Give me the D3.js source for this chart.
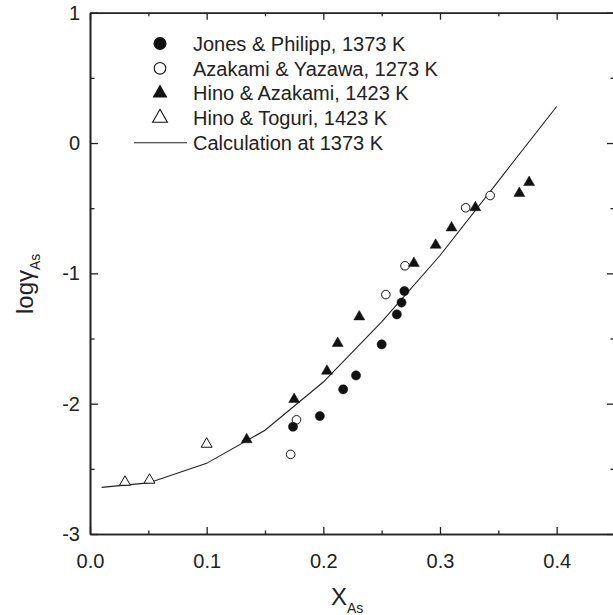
<!DOCTYPE html>
<html>
<head>
<meta charset="utf-8">
<script src="https://cdn.jsdelivr.net/npm/d3@7"></script>
<style>
  body { margin: 0; background: #fff; }
  svg text { font-family: "Liberation Sans", Arial, Helvetica, sans-serif; fill: #222; }
</style>
</head>
<body>
<script>
var width = 613,
    height = 615;

// data
var jonesX = [0.174, 0.197, 0.217, 0.228, 0.250, 0.263, 0.267, 0.2695];
var jonesY = [-2.177, -2.095, -1.890, -1.783, -1.545, -1.315, -1.224, -1.136];

var azakamiX = [0.172, 0.177, 0.2536, 0.270, 0.322, 0.343];
var azakamiY = [-2.389, -2.124, -1.163, -0.942, -0.497, -0.403];

var hinoAzX = [0.1343, 0.175, 0.2031, 0.2123, 0.2308, 0.2776, 0.2963, 0.3099, 0.3303, 0.368, 0.3764];
var hinoAzY = [-2.276, -1.967, -1.750, -1.537, -1.333, -0.923, -0.783, -0.650, -0.495, -0.386, -0.302];

var hinoToX = [0.030, 0.051, 0.100];
var hinoToY = [-2.602, -2.586, -2.310];

var calcX = [0.01, 0.05, 0.10, 0.15, 0.20, 0.25, 0.30, 0.35, 0.40];
var calcY = [-2.642, -2.608, -2.458, -2.204, -1.834, -1.372, -0.863, -0.292, 0.280];

var legendLabels = ["Jones & Philipp, 1373 K", "Azakami & Yazawa, 1273 K",
    "Hino & Azakami, 1423 K", "Hino & Toguri, 1423 K", "Calculation at 1373 K"];

var xMajor = [0, 0.1, 0.2, 0.3, 0.4];
var xMinor = [0.05, 0.15, 0.25, 0.35, 0.45];
var yMajor = [-3, -2, -1, 0, 1];
var yMinor = [-2.5, -1.5, -0.5, 0.5];

var x = d3.scaleLinear().domain([0, 0.45]).range([90, 615]);
var y = d3.scaleLinear().domain([-3, 1]).range([534, 12.7]);

var svg = d3.select("body").append("svg")
    .attr("width", width)
    .attr("height", height);

function zip(xs, ys) {
    return xs.map(function(d, i) { return [d, ys[i]]; });
}

// axes, ticks pointing inward
function styleAxis(g) {
    g.selectAll("path, line").attr("stroke", "#222");
    g.select(".domain").attr("stroke-width", 1.6);
    g.selectAll(".tick line").attr("stroke-width", 1.3);
    g.selectAll("text").attr("font-size", 20).attr("fill", "#222");
}

svg.append("g")
    .attr("transform", "translate(0,534)")
    .call(d3.axisBottom(x).tickValues(xMajor).tickSize(-7).tickSizeOuter(0)
        .tickPadding(20).tickFormat(d3.format(".1f")))
    .call(styleAxis);
svg.append("g")
    .attr("transform", "translate(0,534)")
    .call(d3.axisBottom(x).tickValues(xMinor).tickSize(-3.5).tickSizeOuter(0).tickFormat(""))
    .call(styleAxis);

svg.append("g")
    .attr("transform", "translate(0,12.7)")
    .call(d3.axisTop(x).tickValues(xMajor).tickSize(-7).tickSizeOuter(0).tickFormat(""))
    .call(styleAxis);
svg.append("g")
    .attr("transform", "translate(0,12.7)")
    .call(d3.axisTop(x).tickValues(xMinor).tickSize(-3.5).tickSizeOuter(0).tickFormat(""))
    .call(styleAxis);

svg.append("g")
    .attr("transform", "translate(90,0)")
    .call(d3.axisLeft(y).tickValues(yMajor).tickSize(-8).tickSizeOuter(0)
        .tickPadding(10).tickFormat(function(d) { return String(d); }))
    .call(styleAxis);
svg.append("g")
    .attr("transform", "translate(90,0)")
    .call(d3.axisLeft(y).tickValues(yMinor).tickSize(-4.5).tickSizeOuter(0).tickFormat(""))
    .call(styleAxis);

svg.append("g")
    .attr("transform", "translate(615,0)")
    .call(d3.axisRight(y).tickValues(yMajor).tickSize(-8).tickSizeOuter(0).tickFormat(""))
    .call(styleAxis);
svg.append("g")
    .attr("transform", "translate(615,0)")
    .call(d3.axisRight(y).tickValues(yMinor).tickSize(-4.5).tickSizeOuter(0).tickFormat(""))
    .call(styleAxis);

// axis titles
var xt = svg.append("text")
    .attr("x", 331)
    .attr("y", 605)
    .attr("font-size", 24);
xt.append("tspan").text("X");
xt.append("tspan").attr("font-size", 14).attr("dy", 8).text("As");

var yt = svg.append("text")
    .attr("transform", "translate(33,314) rotate(-90)")
    .attr("font-size", 24);
yt.append("tspan").text("log\u03b3");
yt.append("tspan").attr("font-size", 14).attr("dy", 7).text("As");

// calculated curve
var line = d3.line()
    .x(function(d) { return x(d[0]); })
    .y(function(d) { return y(d[1]); });

svg.append("path")
    .datum(zip(calcX, calcY))
    .attr("d", line)
    .attr("fill", "none")
    .attr("stroke", "#222")
    .attr("stroke-width", 1.1);

// markers
var triSmall = d3.symbol().type(d3.symbolTriangle).size(52);
var triBig = d3.symbol().type(d3.symbolTriangle).size(95);

function drawTriangles(data, filled) {
    svg.append("g").selectAll("path")
        .data(data)
        .enter().append("path")
        .attr("d", triSmall)
        .attr("transform", function(d) { return "translate(" + x(d[0]) + "," + y(d[1]) + ")"; })
        .attr("fill", filled ? "#111" : "#fff")
        .attr("stroke", "#111")
        .attr("stroke-width", filled ? 0.5 : 1);
}

function drawCircles(data, filled) {
    svg.append("g").selectAll("circle")
        .data(data)
        .enter().append("circle")
        .attr("cx", function(d) { return x(d[0]); })
        .attr("cy", function(d) { return y(d[1]); })
        .attr("r", filled ? 4.6 : 4.3)
        .attr("fill", filled ? "#111" : "#fff")
        .attr("stroke", "#111")
        .attr("stroke-width", filled ? 0.5 : 1);
}

drawCircles(zip(azakamiX, azakamiY), false);
drawTriangles(zip(hinoToX, hinoToY), false);
drawTriangles(zip(hinoAzX, hinoAzY), true);
drawCircles(zip(jonesX, jonesY), true);

// legend
var lg = svg.append("g").attr("transform", "translate(160,43.5)");
var rowH = 24.8;
lg.append("circle").attr("cx", 0).attr("cy", 0).attr("r", 6.5).attr("fill", "#111");
lg.append("circle").attr("cx", 0).attr("cy", rowH).attr("r", 5.8)
    .attr("fill", "#fff").attr("stroke", "#111").attr("stroke-width", 1.1);
lg.append("path").attr("d", triBig).attr("transform", "translate(0," + (2 * rowH) + ")")
    .attr("fill", "#111");
lg.append("path").attr("d", triBig).attr("transform", "translate(0," + (3 * rowH) + ")")
    .attr("fill", "#fff").attr("stroke", "#111").attr("stroke-width", 1.1);
lg.append("line").attr("x1", -26).attr("x2", 27)
    .attr("y1", 4 * rowH).attr("y2", 4 * rowH)
    .attr("stroke", "#222").attr("stroke-width", 1.1);

lg.selectAll("text.lab")
    .data(legendLabels)
    .enter().append("text")
    .attr("class", "lab")
    .attr("x", 33)
    .attr("y", function(d, i) { return i * rowH; })
    .attr("dy", "0.36em")
    .attr("font-size", 20)
    .text(function(d) { return d; });
</script>
</body>
</html>
